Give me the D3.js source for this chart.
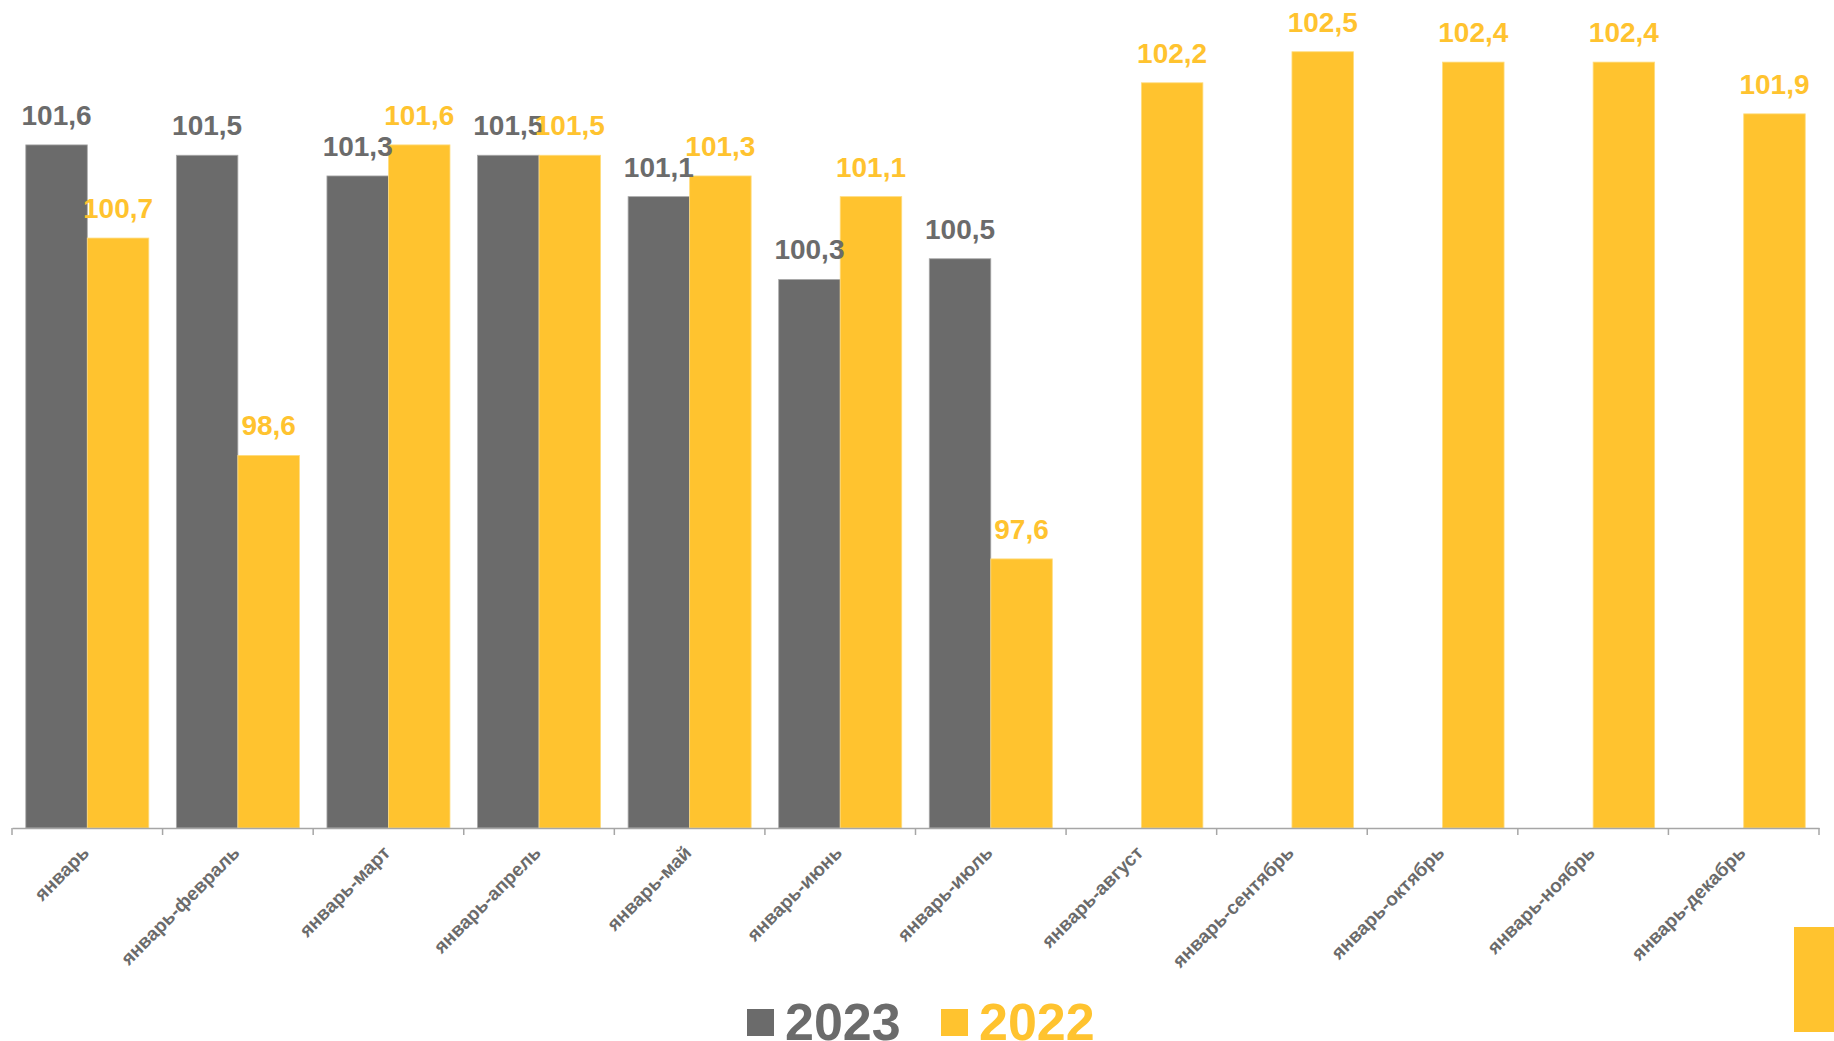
<!DOCTYPE html>
<html>
<head>
<meta charset="utf-8">
<script src="https://cdn.jsdelivr.net/npm/d3@7"></script>
<style>
  html, body { margin: 0; padding: 0; background: #fff; }
  svg { display: block; font-family: "Liberation Sans", Arial, sans-serif; font-weight: bold; }
</style>
</head>
<body>
<svg id="chart" width="1834" height="1041"></svg>
<script>
// chart data
const categories = ["январь", "январь-февраль", "январь-март", "январь-апрель", "январь-май",
  "январь-июнь", "январь-июль", "январь-август", "январь-сентябрь", "январь-октябрь",
  "январь-ноябрь", "январь-декабрь"];
const seriesNames = ["2023", "2022"];
const values2023 = [101.6, 101.5, 101.3, 101.5, 101.1, 100.3, 100.5, null, null, null, null, null];
const values2022 = [100.7, 98.6, 101.6, 101.5, 101.3, 101.1, 97.6, 102.2, 102.5, 102.4, 102.4, 101.9];

const GRAY = "#6b6b6b";
const YELLOW = "#ffc32f";
const colors = { "2023": GRAY, "2022": YELLOW };
const strokes = { "2023": "#a9a9a9", "2022": "#ffdc7e" };

const svg = d3.select("#chart");
const baseY = 828;

const x0 = d3.scaleBand()
    .domain(categories)
    .range([12, 1819])
    .padding(0);

const x1 = d3.scaleBand()
    .domain(seriesNames)
    .range([0, x0.bandwidth()])
    .paddingInner(0)
    .paddingOuter(0.224);

const y = d3.scaleLinear()
    .domain([95, 103])
    .range([baseY, 0]);

const fmt = v => d3.format(".1f")(v).replace(".", ",");

// flatten into bar records
const bars = [];
categories.forEach((c, i) => {
  [values2023[i], values2022[i]].forEach((v, j) => {
    if (v != null) bars.push({ cat: c, series: seriesNames[j], value: v });
  });
});

// bars
svg.append("g")
  .selectAll("rect")
  .data(bars)
  .join("rect")
    .attr("x", d => x0(d.cat) + x1(d.series))
    .attr("y", d => y(d.value))
    .attr("width", x1.bandwidth())
    .attr("height", d => baseY - y(d.value))
    .attr("fill", d => colors[d.series])
    .attr("stroke", d => strokes[d.series])
    .attr("stroke-width", 0.8);

// value labels
svg.append("g")
  .selectAll("text")
  .data(bars)
  .join("text")
    .attr("x", d => x0(d.cat) + x1(d.series) + x1.bandwidth() / 2)
    .attr("y", d => y(d.value) - 20)
    .attr("text-anchor", "middle")
    .attr("font-size", 28)
    .attr("fill", d => colors[d.series])
    .text(d => fmt(d.value));

// x axis: line + boundary ticks
const axis = svg.append("g")
    .attr("transform", `translate(0,${baseY})`)
    .call(d3.axisBottom(x0).tickSize(0).tickFormat(""));
axis.select(".domain").attr("stroke", "#a6a6a6").attr("stroke-width", 1.5);

const bounds = categories.map(c => x0(c)).concat([x0.range()[1]]);
axis.selectAll(".btick")
  .data(bounds)
  .join("line")
    .attr("class", "btick")
    .attr("x1", d => d).attr("x2", d => d)
    .attr("y1", 0).attr("y2", 7)
    .attr("stroke", "#a6a6a6")
    .attr("stroke-width", 1.5);

// rotated category labels
svg.append("g")
  .selectAll("text")
  .data(categories)
  .join("text")
    .attr("transform", d => `translate(${x0(d) + x0.bandwidth() / 2 + 3},${baseY + 26}) rotate(-45)`)
    .attr("text-anchor", "end")
    .attr("font-size", 19)
    .attr("fill", GRAY)
    .text(d => d);

// legend
const legend = svg.append("g");
const legendX = [747, 941];
seriesNames.forEach((s, i) => {
  legend.append("rect")
    .attr("x", legendX[i]).attr("y", 1009)
    .attr("width", 27).attr("height", 27)
    .attr("fill", colors[s]);
  legend.append("text")
    .attr("x", legendX[i] + 38).attr("y", 1040)
    .attr("font-size", 52)
    .attr("fill", colors[s])
    .text(s);
});

// page marker at bottom right
svg.append("rect")
  .attr("x", 1794).attr("y", 927)
  .attr("width", 40).attr("height", 105)
  .attr("fill", YELLOW);
</script>
</body>
</html>
